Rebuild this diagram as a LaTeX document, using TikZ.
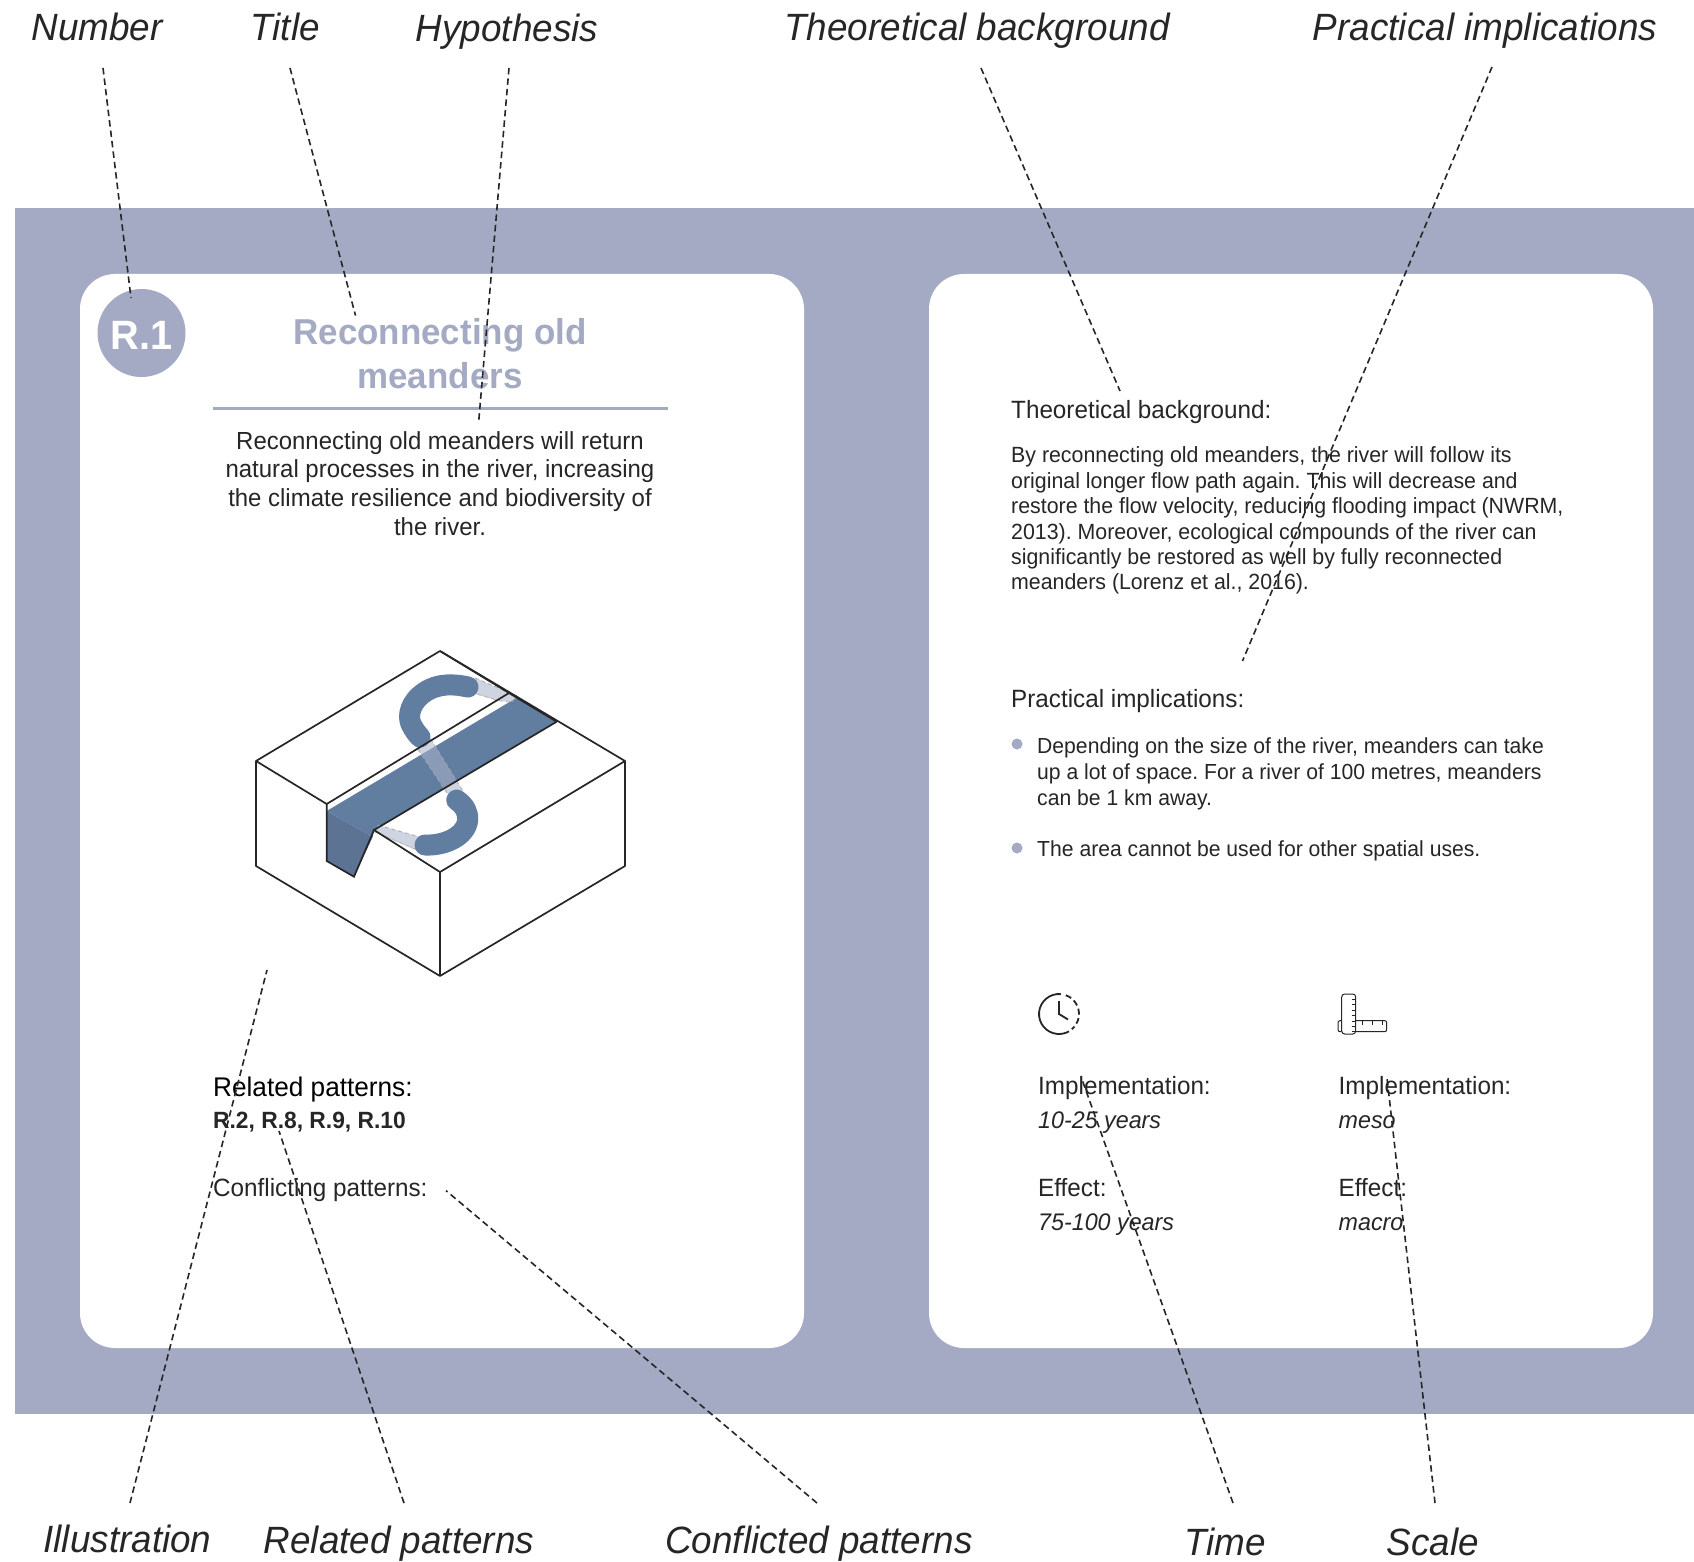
\documentclass[tikz,border=0pt]{standalone}
\usepackage{fontspec}
\setmainfont{Liberation Sans}[FakeStretch=0.97]
\usetikzlibrary{calc}
\definecolor{band}{HTML}{A4AAC4}
\definecolor{water}{HTML}{617DA0}
\definecolor{waterd}{HTML}{5C7394}
\definecolor{lightw}{HTML}{ABB3CB}
\definecolor{ink}{HTML}{262626}
\tikzset{
  x=1pt,y=-1pt,
  lab/.style={font=\fontsize{38}{38}\selectfont\itshape,text=ink,inner sep=0pt,anchor=mid,yshift=-10pt},
  txt/.style={font=\fontsize{25}{25}\selectfont,text=ink,inner sep=0pt,anchor=mid west,yshift=-5.5pt},
  bigtxt/.style={txt,font=\fontsize{27}{27}\selectfont,text=black},
  itxt/.style={txt,font=\fontsize{24}{24}\selectfont\itshape},
  btxt/.style={txt,font=\fontsize{23.5}{23.5}\selectfont\bfseries},
  smalltxt/.style={txt,font=\fontsize{22}{22}\selectfont},
  listtxt/.style={txt,font=\fontsize{21.8}{21.8}\selectfont},
  hyp/.style={font=\fontsize{24.7}{24.7}\selectfont,text=ink,inner sep=0pt,anchor=mid,yshift=-6pt},
  ttl/.style={font=\fontsize{36}{36}\selectfont\bfseries,text=band,inner sep=0pt,anchor=mid,yshift=-9.5pt},
  card/.style={fill=white,rounded corners=35pt},
  lead/.style={draw=ink,line width=1.6pt,dash pattern=on 6.5pt off 4pt},
  edge/.style={draw=ink,line width=1.7pt,line join=miter},
  river/.style={draw=water,line width=21pt,line cap=round,line join=round},
  oldriver/.style={fill=lightw,fill opacity=.56,draw=gray!70,draw opacity=.6,line width=.8pt,dash pattern=on 4pt off 3pt},
  dotb/.style={circle,fill=band,minimum size=11pt,inner sep=0pt},
  icon/.style={draw=ink,line width=1.2pt},
}
\begin{document}
\frenchspacing
\begin{tikzpicture}
\useasboundingbox (0,0) rectangle (1694,1562);
\fill[white] (0,0) rectangle (1694,1562);
\fill[band] (15,208) rectangle (1694,1414);
\fill[card] (80,274) rectangle (804,1348);
\fill[card] (929,274) rectangle (1653,1348);

% number + title
\node[circle,fill=band,minimum size=88pt,inner sep=0pt,font=\fontsize{41}{41}\selectfont\bfseries,text=white,text depth=0pt] (num) at (141.5,333) {\raisebox{-4pt}{R.1}};
\node[ttl] (t1) at (440,332) {Reconnecting old};
\node[ttl] (t2) at (440,376) {meanders};
\coordinate (ruleL) at (213,408.5);
\coordinate (ruleR) at (668,408.5);
\draw[band,line width=2.5pt] (ruleL) -- (ruleR);
\node[hyp] (h1) at (440,441) {Reconnecting old meanders will return};
\node[hyp] (h2) at (440,469) {natural processes in the river, increasing};
\node[hyp] (h3) at (440,498) {the climate resilience and biodiversity of};
\node[hyp] (h4) at (440,526.5) {the river.};

% illustration
\coordinate (T) at (440,651);
\coordinate (L) at (256,761);
\coordinate (R) at (625,761);
\coordinate (F) at (440,872);
\coordinate (B) at (440,976);
\coordinate (LB) at (256,866);
\coordinate (RB) at (625,866);
\coordinate (bankA) at (326.7,804);
\coordinate (bankB) at (509,693);
\coordinate (wA) at (326.7,811);
\coordinate (wB) at (516.7,697.7);
\coordinate (wC) at (556.7,721.7);
\coordinate (wD) at (374,830);
\coordinate (wE) at (372.7,837);
\coordinate (wF) at (354,876.7);
\coordinate (wG) at (326.7,861);

\fill[water] (wA) -- (wB) -- (wC) -- (wD) -- (wE) -- cycle;
\fill[waterd] (wA) -- (wE) -- (wF) -- (wG) -- cycle;
\fill[oldriver] (475,678) -- (517,696) -- (512,702) -- (500,701) -- (470,692) -- cycle;
\draw[oldriver,fill=none] (475,678) -- (517,696) (470,692) -- (500,701);
\fill[oldriver] (427,733) -- (463,791) -- (447,793) -- (413,742) -- cycle;
\draw[oldriver,fill=none] (427,733) -- (463,791) (447,793) -- (413,742);
\fill[oldriver] (378,825) -- (423,838) -- (417,850) -- (375,832) -- cycle;
\draw[oldriver,fill=none] (378,825) -- (423,838) (417,850) -- (375,832);
\draw[river] (468,687) .. controls (455,684) and (438,683) .. (425,692) .. controls (411,701) and (407,715) .. (411,724) .. controls (414,730) and (417,734) .. (420,737);
\draw[river] (456.7,800) .. controls (465,806) and (468,812) .. (467.7,820) .. controls (466,836) and (445,846) .. (425,845);

\draw[edge,line join=round] (L) -- (T) -- (R) -- (RB) -- (B) -- (LB) -- cycle;
\draw[edge] (L) -- (bankA) -- (bankB);
\draw[edge] (wB) -- (wC);
\draw[edge] (T) -- (wB);
\draw[edge] (wC) -- (wD) -- (F) -- (R);
\draw[edge] (F) -- (B);
\draw[edge] (bankA) -- (wG) -- (wF) -- (wD);

% related
\node[bigtxt] (rp) at (213,1088) {Related patterns:};
\node[btxt] (rpv) at (213,1120) {R.2, R.8, R.9, R.10};
\node[txt] (cp) at (213,1188) {Conflicting patterns:};

% right card
\node[txt] (tb) at (1011,410) {Theoretical background:};
\node[smalltxt] (p1) at (1011,454) {By reconnecting old meanders, the river will follow its};
\node[smalltxt] (p2) at (1011,480) {original longer flow path again. This will decrease and};
\node[smalltxt] (p3) at (1011,505) {restore the flow velocity, reducing flooding impact (NWRM,};
\node[smalltxt] (p4) at (1011,531) {2013). Moreover, ecological compounds of the river can};
\node[smalltxt] (p5) at (1011,556) {significantly be restored as well by fully reconnected};
\node[smalltxt] (p6) at (1011,581.5) {meanders (Lorenz et al., 2016).};
\node[txt] (pi) at (1011,699) {Practical implications:};
\node[dotb] (b1) at (1017,744) {};
\node[listtxt] (q1) at (1037,745) {Depending on the size of the river, meanders can take};
\node[listtxt] (q2) at (1037,771) {up a lot of space. For a river of 100 metres, meanders};
\node[listtxt] (q3) at (1037,797) {can be 1 km away.};
\node[dotb] (b2) at (1017,848) {};
\node[listtxt] (q4) at (1037,848) {The area cannot be used for other spatial uses.};

% clock icon
\coordinate (ck) at (1059,1014);
\draw[icon,line width=1.8pt] (ck) ++(-85:20) arc[start angle=-85,end angle=-300,radius=20];
\draw[icon,line width=1.8pt,dash pattern=on 6pt off 3.5pt] (ck) ++(-70:20) arc[start angle=-70,end angle=50,radius=20];
\draw[icon,line width=1.8pt] (1059,1001) -- (ck) -- (1068,1019.5);
% ruler icon
\draw[icon,rounded corners=2pt,line width=1pt] (1355.7,1020.7) -- (1386.7,1020.7) -- (1386.7,1031.7) -- (1355.7,1031.7);
\draw[icon,rounded corners=2pt,line width=1pt] (1341.7,1020.7) -- (1338,1020.7) -- (1338,1031.7) -- (1341.7,1031.7);
\draw[icon,rounded corners=3pt,line width=1pt] (1341.7,994) rectangle (1355.7,1034);
\foreach \yy in {999,1004,1010,1015,1021,1026,1031}{\draw[icon,line width=.8pt] (1351.5,\yy) -- (1355.7,\yy);}
\foreach \xx in {1362,1372,1382}{\draw[icon,line width=.8pt] (\xx,1020.7) -- (\xx,1024.5);}

\node[txt] (i1) at (1038,1086) {Implementation:};
\node[itxt] (i1v) at (1038,1120) {10-25 years};
\node[txt] (e1) at (1038,1188) {Effect:};
\node[itxt] (e1v) at (1038,1222) {75-100 years};
\node[txt] (i2) at (1338.5,1086) {Implementation:};
\node[itxt] (i2v) at (1338.5,1120) {meso};
\node[txt] (e2) at (1338.5,1188) {Effect:};
\node[itxt] (e2v) at (1338.5,1222) {macro};

% labels
\node[lab] (lNumber) at (97,28) {Number};
\node[lab] (lTitle) at (285,28) {Title};
\node[lab] (lHyp) at (507,29) {Hypothesis};
\node[lab] (lTheo) at (977,28) {Theoretical background};
\node[lab] (lPrac) at (1485,28) {Practical implications};
\node[lab] (lIll) at (127.5,1540) {Illustration};
\node[lab] (lRel) at (399,1541) {Related patterns};
\node[lab] (lCon) at (819,1541) {Conflicted patterns};
\node[lab] (lTime) at (1225,1543) {Time};
\node[lab] (lScale) at (1433,1543) {Scale};

% leader ends
\coordinate (a1) at (103,68);    \coordinate (b1e) at (131,298);
\coordinate (a2) at (290,68);    \coordinate (b2e) at (355.5,315.5);
\coordinate (a3) at (509,68);    \coordinate (b3e) at (478.6,422.5);
\coordinate (a4) at (981,68);    \coordinate (b4e) at (1120,391);
\coordinate (a5) at (1492,67);   \coordinate (b5e) at (1242.5,661);
\coordinate (a6) at (130,1503);  \coordinate (b6e) at (267,970);
\coordinate (a7) at (404,1503);  \coordinate (b7e) at (279,1131);
\coordinate (a8) at (817,1503);  \coordinate (b8e) at (446,1190.6);
\coordinate (a9) at (1233,1503); \coordinate (b9e) at (1081.5,1078);
\coordinate (a10) at (1435,1503);\coordinate (b10e) at (1387,1078);
\draw[lead] (a1) -- (b1e);
\draw[lead] (a2) -- (b2e);
\draw[lead] (a3) -- (b3e);
\draw[lead] (a4) -- (b4e);
\draw[lead] (a5) -- (b5e);
\draw[lead] (a6) -- (b6e);
\draw[lead] (a7) -- (b7e);
\draw[lead] (a8) -- (b8e);
\draw[lead] (a9) -- (b9e);
\draw[lead] (a10) -- (b10e);
\end{tikzpicture}
\end{document}
